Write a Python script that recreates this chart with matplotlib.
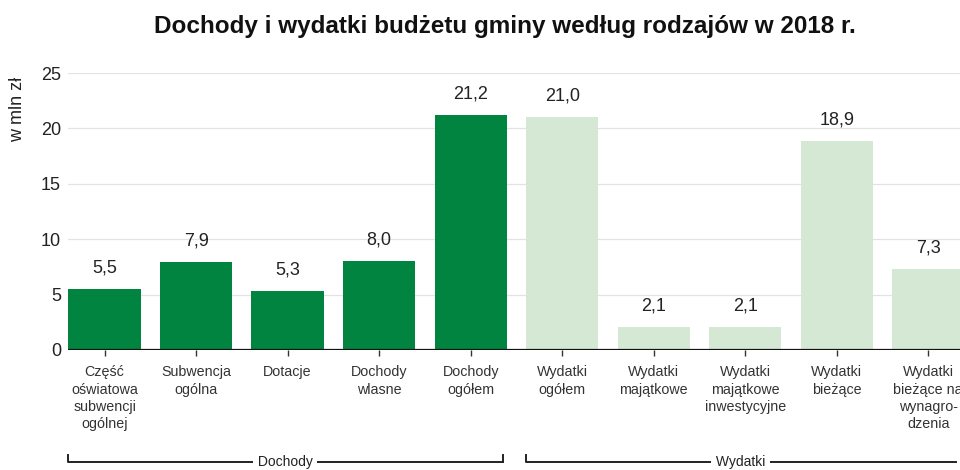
import matplotlib
matplotlib.use("Agg")
import matplotlib.pyplot as plt
import matplotlib.transforms as mtransforms

plt.rcParams['font.family'] = ['Liberation Sans', 'DejaVu Sans']

categories = ["Część\noświatowa\nsubwencji\nogólnej", "Subwencja\nogólna", "Dotacje",
              "Dochody\nwlasne", "Dochody\nogółem", "Wydatki\nogółem", "Wydatki\nmajątkowe",
              "Wydatki\nmajątkowe\ninwestycyjne", "Wydatki\nbieżące",
              "Wydatki\nbieżące na\nwynagro-\ndzenia"]
values = [5.5, 7.9, 5.3, 8.0, 21.2, 21.0, 2.1, 2.1, 18.9, 7.3]
groups = ["Dochody"] * 5 + ["Wydatki"] * 5
value_labels = ["5,5", "7,9", "5,3", "8,0", "21,2", "21,0", "2,1", "2,1", "18,9", "7,3"]
yticks = [0, 5, 10, 15, 20, 25]

DARK = "#00843f"
LIGHT = "#d5e8d4"

W, H = 960, 470
fig = plt.figure(figsize=(W / 100, H / 100), dpi=100)
ax_left, ax_bottom = 68 / W, (H - 350) / H
ax_w, ax_h = (974 - 68) / W, (350 - 73) / H
ax = fig.add_axes([ax_left, ax_bottom, ax_w, ax_h])

x = list(range(len(values)))
colors = [DARK if g == "Dochody" else LIGHT for g in groups]
ax.bar(x, values, width=0.79, color=colors, zorder=2)

ax.set_xlim(-0.4, 9.5)
ax.set_ylim(0, 25)
ax.set_yticks(yticks)
ax.set_yticklabels([str(t) for t in yticks], fontsize=13, color="#222222")
ax.yaxis.grid(True, color="#e3e3e3", linewidth=0.9, zorder=0)
ax.set_axisbelow(True)
for s in ["top", "right", "left", "bottom"]:
    ax.spines[s].set_visible(False)
ax.axhline(0, color="#111111", linewidth=1.6, zorder=3)
ax.tick_params(axis="y", length=0, pad=5)
ax.set_xticks(x)
ax.set_xticklabels(categories, fontsize=10.3, color="#333333", linespacing=1.3)
ax.tick_params(axis="x", length=4, width=1, color="#333333", pad=7, direction="out")

for xi, v, lab in zip(x, values, value_labels):
    ax.annotate(lab, (xi, v), xytext=(0, 9), textcoords="offset points",
                ha="center", va="bottom", fontsize=13, color="#222222")

fig.text(505 / W, 1 - 27 / H, "Dochody i wydatki budżetu gminy według rodzajów w 2018 r.",
         ha="center", va="center", fontsize=17.5, fontweight="bold", color="#111111")
fig.text(18 / W, 1 - 109 / H, "w mln zł", rotation=90, ha="center", va="center",
         fontsize=13, color="#222222")

trans = mtransforms.blended_transform_factory(ax.transData, ax.transAxes)
yb = (350 - 462) / (350 - 73)
yt = (350 - 455) / (350 - 73)
brackets = [("Dochody", -0.4, 4.35, True), ("Wydatki", 4.6, 9.3, False)]
for name, x0, x1, right_tick in brackets:
    ax.plot([x0, x0, x1], [yt, yb, yb], transform=trans, color="#222222",
            linewidth=1.4, clip_on=False)
    if right_tick:
        ax.plot([x1, x1], [yb, yt], transform=trans, color="#222222",
                linewidth=1.4, clip_on=False)
    ax.text((x0 + x1) / 2, yb, " " + name + " ", transform=trans, ha="center",
            va="center", fontsize=10, color="#222222",
            bbox=dict(facecolor="white", edgecolor="none", pad=0.5))

fig.savefig("out.png", dpi=100)
